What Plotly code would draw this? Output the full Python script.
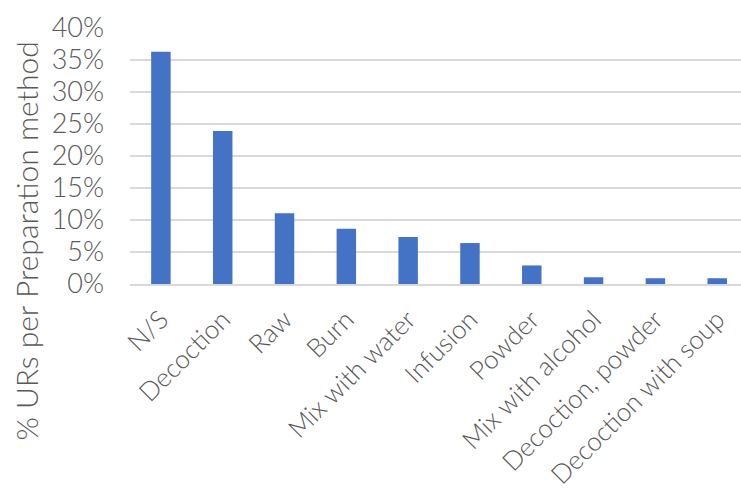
import plotly.graph_objects as go

categories = ["N/S", "Decoction", "Raw", "Burn", "Mix with water", "Infusion",
              "Powder", "Mix with alcohol", "Decoction, powder", "Decoction with soup"]
values = [0.363, 0.239, 0.1105, 0.0865, 0.0734, 0.064, 0.029, 0.0105, 0.009, 0.009]
y_ticks = [0, 0.05, 0.10, 0.15, 0.20, 0.25, 0.30, 0.35, 0.40]
y_title = "% URs per Preparation method"

FONT = "Lato"
GRAY = "#595959"
GRID = "#d9d9d9"

W, H = 741, 490
L, R, T, B = 129.5, 0, 28.3, 206
pw = W - L - R
ph = H - T - B

fig = go.Figure(go.Bar(x=categories, y=values, marker=dict(color="#4472C4", line=dict(width=0))))

fig.update_layout(
    width=W, height=H,
    margin=dict(l=L, r=R, t=T, b=B, pad=0, autoexpand=False),
    paper_bgcolor="white", plot_bgcolor="white",
    bargap=0.685,
    showlegend=False,
    font=dict(family=FONT, color=GRAY, size=26),
)
fig.update_xaxes(
    range=[-0.5, 9.385], tickangle=-45, automargin=False,
    showline=True, linecolor=GRID, linewidth=2,
    showgrid=False, ticks="", ticklabelstandoff=8,
    tickfont=dict(family=FONT, size=26, color=GRAY, weight=300),
)
fig.update_yaxes(
    range=[0, 0.4], tickvals=y_ticks, tickformat=".0%", automargin=False,
    showgrid=True, gridcolor=GRID, gridwidth=2,
    zeroline=False, showline=False, ticks="", ticklabelstandoff=25,
    tickfont=dict(family=FONT, size=27, color=GRAY, weight=300),
)
fig.add_annotation(
    text=y_title, textangle=-90, showarrow=False,
    xref="paper", yref="paper",
    x=(25 - L) / pw, y=(H - B - 241) / ph,
    xanchor="center", yanchor="middle",
    font=dict(family=FONT, size=30, color=GRAY, weight=300),
)
fig.write_html("out.html")
